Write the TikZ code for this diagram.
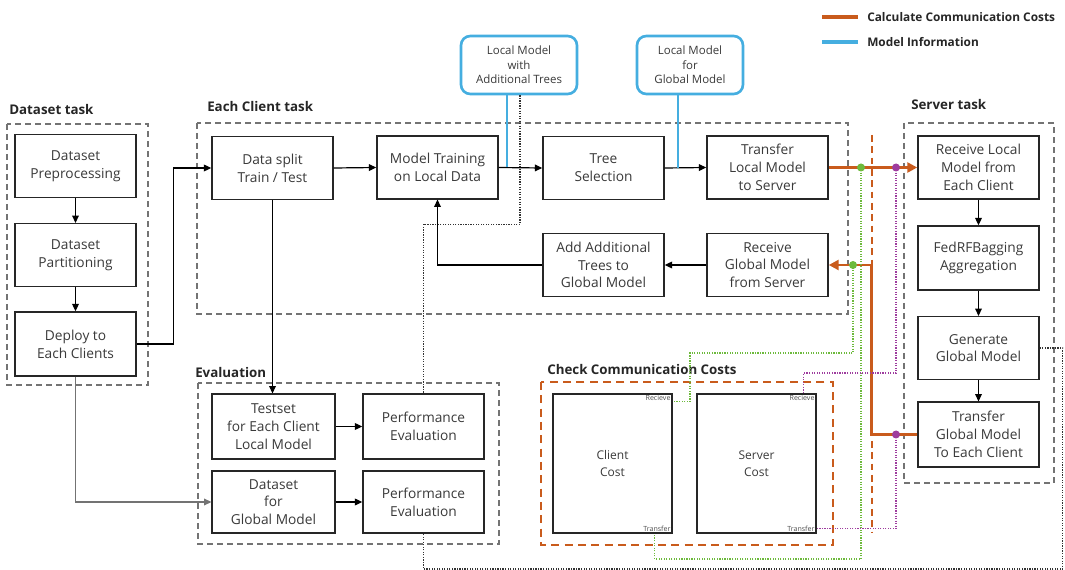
\documentclass[tikz,border=0pt]{standalone}
\usepackage{fontspec}
\setmainfont{Open Sans}
\usetikzlibrary{arrows.meta}
\definecolor{ccorange}{HTML}{C95B1C}
\definecolor{ccblue}{HTML}{45AEE0}
\definecolor{ccgreen}{HTML}{6DBA3C}
\definecolor{ccpurple}{HTML}{9E3C9E}
\definecolor{cctext}{HTML}{3A3A3A}
\begin{document}
\begin{tikzpicture}[x=0.75pt,y=-0.75pt,
  box/.style={draw=black!85, line width=1.1pt, fill=white, text=cctext, align=center,
    minimum width=90.75pt, minimum height=47pt, inner sep=1pt,
    font=\fontsize{10.3}{13.3}\selectfont},
  bluebox/.style={draw=ccblue, line width=2pt, rounded corners=7pt, fill=white, text=cctext,
    align=center, minimum height=43.5pt, inner sep=1pt, font=\fontsize{8.6}{10.8}\selectfont},
  costbox/.style={draw=black!85, line width=1.1pt, text=cctext, align=center,
    minimum width=89.25pt, minimum height=104.25pt, inner sep=1pt,
    font=\fontsize{9}{12.6}\selectfont},
  tiny/.style={font=\fontsize{5.3}{6}\selectfont, text=black!70, inner sep=1.5pt},
  grp/.style={draw=black!55, line width=0.8pt, dash pattern=on 4.5pt off 3pt},
  title/.style={anchor=west, font=\fontsize{10}{12}\bfseries\selectfont, text=black!85, inner sep=0pt},
  arr/.style={draw=black, line width=0.9pt, -{Triangle[length=5.5pt,width=5pt]}},
  garr/.style={draw=black!55, line width=0.9pt, -{Triangle[length=5.5pt,width=5pt]}},
  oline/.style={draw=ccorange, line width=2.2pt},
  oarr/.style={oline, -{Triangle[length=7.5pt,width=7.5pt]}},
  bline/.style={draw=ccblue, line width=1.1pt},
  kdot/.style={draw=black!80, line width=0.9pt, densely dotted},
  gdot/.style={draw=ccgreen, line width=0.9pt, densely dotted},
  pdot/.style={draw=ccpurple, line width=0.9pt, densely dotted},
  dotmark/.style={circle, inner sep=0pt, minimum size=6pt},
]
\useasboundingbox (0,0) rectangle (1065,570);

% legend
\draw[draw=ccorange, line width=2.4pt] (822,17) -- (858,17);
\node[anchor=west, font=\fontsize{8.9}{10}\bfseries\selectfont, text=black!85, inner sep=0pt] (leg1) at (867,17) {Calculate Communication Costs};
\draw[draw=ccblue, line width=2.4pt] (822,42) -- (858,42);
\node[anchor=west, font=\fontsize{8.9}{10}\bfseries\selectfont, text=black!85, inner sep=0pt] (leg2) at (867,42) {Model Information};

% group frames
\draw[grp] (7,124) rectangle (148,385);
\draw[grp] (197,123) rectangle (848,314);
\draw[grp] (198,383) rectangle (499,544);
\draw[grp] (904,123) rectangle (1054,483);
\draw[draw=ccorange, line width=1.3pt, dash pattern=on 6pt off 4pt] (541,382) rectangle (833,545);

% titles
\node[title] (t1) at (9,110) {Dataset task};
\node[title] (t2) at (207,107) {Each Client task};
\node[title] (t3) at (195,373) {Evaluation};
\node[title] (t4) at (547,370) {Check Communication Costs};
\node[title] (t5) at (911,105) {Server task};

% orange dashed vertical
\coordinate (od1) at (872,135);
\coordinate (od2) at (872,532);
\draw[draw=ccorange, line width=1pt, dash pattern=on 5pt off 3.5pt] (od1) -- (od2);

% boxes
\node[box] (prep) at (75.5,166) {Dataset\\Preprocessing};
\node[box] (part) at (75.5,255) {Dataset\\Partitioning};
\node[box, minimum height=48pt] (deploy) at (75.5,344) {Deploy to\\Each Clients};
\node[box] (split) at (272.5,168) {Data split\\Train / Test};
\node[box] (train) at (437.5,167.5) {Model Training\\on Local Data};
\node[box] (tree) at (603.5,168) {Tree\\Selection};
\node[box] (tlocal) at (767.5,167.5) {Transfer\\Local Model\\to Server};
\node[box] (rglobal) at (767.5,265) {Receive\\Global Model\\from Server};
\node[box] (addtrees) at (603.5,265) {Add Additional\\Trees to\\Global Model};
\node[box] (rlocal) at (978.5,167.5) {Receive Local\\Model from\\Each Client};
\node[box, minimum height=48pt] (fedrf) at (978.5,258) {FedRFBagging\\Aggregation};
\node[box] (gen) at (978.5,348) {Generate\\Global Model};
\node[box, minimum height=48.5pt] (tglobal) at (978.5,434.5) {Transfer\\Global Model\\To Each Client};
\node[box, minimum width=92pt, minimum height=48.5pt] (testset) at (273.5,426.5) {Testset\\for Each Client\\Local Model};
\node[box, minimum height=48.5pt] (pe1) at (423.5,426.5) {Performance\\Evaluation};
\node[box, minimum width=92pt, minimum height=46.5pt] (dsglobal) at (273.5,502) {Dataset\\for\\Global Model};
\node[box, minimum height=46.5pt] (pe2) at (423.5,502) {Performance\\Evaluation};
\node[costbox] (ccost) at (612.5,463.5) {Client\\Cost};
\node[costbox] (scost) at (756.5,463.5) {Server\\Cost};
\node[tiny, anchor=north east] (crec) at (ccost.north east) {Recieve};
\node[tiny, anchor=south east] (ctra) at (ccost.south east) {Transfer};
\node[tiny, anchor=north east] (srec) at (scost.north east) {Recieve};
\node[tiny, anchor=south east] (stra) at (scost.south east) {Transfer};
\node[bluebox, minimum width=87pt] (blue1) at (519,65) {Local Model\\with\\Additional Trees};
\node[bluebox, minimum width=79.5pt] (blue2) at (690,65) {Local Model\\for\\Global Model};

% black arrows
\draw[arr] (prep) -- (part);
\draw[arr] (part) -- (deploy);
\draw[arr] (deploy.east) -- ++(37,0) |- (split.west);
\draw[garr] (deploy.south) |- (dsglobal.west);
\draw[arr] (split.east) -- (train.west);
\draw[arr] (train.east) -- (tree.west);
\draw[arr] (tree.east) -- (tlocal.west);
\draw[arr] (rglobal.west) -- (addtrees.east);
\draw[arr] (addtrees.west) -| (train.south);
\draw[arr] (split.south) -- (split.south |- testset.north);
\draw[arr] (rlocal) -- (fedrf);
\draw[arr] (fedrf) -- (gen);
\draw[arr] (gen) -- (tglobal);
\draw[arr] (testset) -- (pe1);
\draw[arr] (dsglobal) -- (pe2);

% model information lines
\draw[bline] ([xshift=-9pt]blue1.south) -- ([xshift=-9pt]blue1.south |- train.east);
\draw[bline] ([xshift=-9pt]blue2.south) -- ([xshift=-9pt]blue2.south |- tree.east);

% black dotted lines
\draw[kdot] ([xshift=0.75pt]blue1.south) -- ++(0,129) -| (pe1.north);
\draw[kdot] (gen.east) -- ++(23,0) coordinate (g1) -- (g1 |- 0,569) -| (pe2.south);

% communication lines
\draw[oarr] (tlocal.east) -- (rlocal.west);
\draw[oarr] (tglobal.west) -- ++(-46,0) |- (rglobal.east);

\coordinate (gd1) at (861,167.5);
\coordinate (pd1) at (896,167.5);
\coordinate (gd2) at (853,265);
\coordinate (pd2) at (896,434.5);

\draw[gdot] (gd1) -- (gd1 |- 0,559) -| ([xshift=-13.5pt]ccost.south east);
\draw[gdot] (gd2) -- (gd2 |- 0,353) -- (690,353) |- ([yshift=-6pt]ccost.north east);
\draw[pdot] (pd1) -- (pd1 |- 0,373) -| ([xshift=-9.75pt]scost.north east);
\draw[pdot] (pd2) |- ([yshift=3.75pt]scost.south east);

\node[dotmark, fill=ccgreen] (m1) at (gd1) {};
\node[dotmark, fill=ccpurple] (m2) at (pd1) {};
\node[dotmark, fill=ccgreen] (m3) at (gd2) {};
\node[dotmark, fill=ccpurple] (m4) at (pd2) {};
\end{tikzpicture}
\end{document}
